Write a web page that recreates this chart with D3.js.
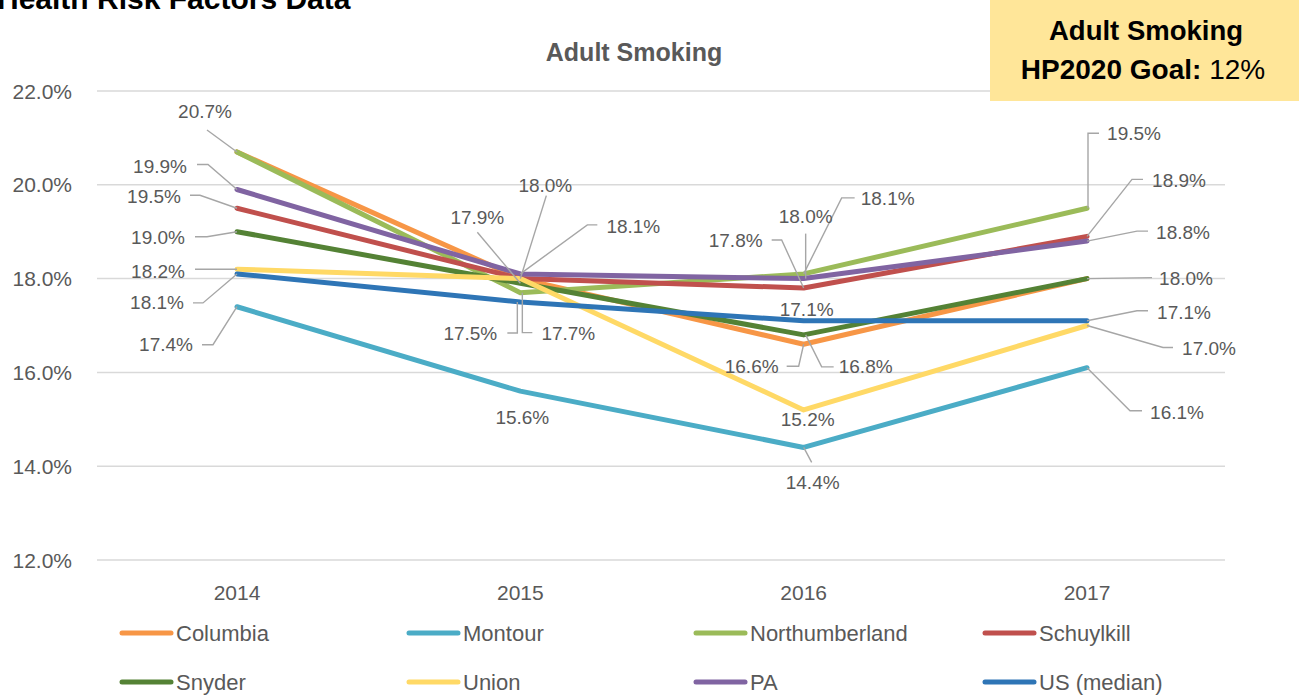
<!DOCTYPE html>
<html>
<head>
<meta charset="utf-8">
<script src="https://cdn.jsdelivr.net/npm/d3@7"></script>
<style>
  body { margin: 0; background: #fff; }
  svg { display: block; font-family: "Liberation Sans", Arial, sans-serif; }
</style>
</head>
<body>
<div id="chart"></div>
<script>
// data
var years = ["2014", "2015", "2016", "2017"];
var seriesNames = ["Columbia", "Montour", "Northumberland", "Schuylkill", "Snyder", "Union", "PA", "US (median)"];
var columbia = [20.7, 18.0, 16.6, 18.0];
var montour = [17.4, 15.6, 14.4, 16.1];
var northumberland = [20.7, 17.7, 18.1, 19.5];
var schuylkill = [19.5, 18.0, 17.8, 18.9];
var snyder = [19.0, 17.9, 16.8, 18.0];
var union = [18.2, 18.0, 15.2, 17.0];
var pa = [19.9, 18.1, 18.0, 18.8];
var usMedian = [18.1, 17.5, 17.1, 17.1];
var yTicks = [12, 14, 16, 18, 20, 22];

var allValues = [columbia, montour, northumberland, schuylkill, snyder, union, pa, usMedian];
var colors = ["#F79646", "#4BACC6", "#9BBB59", "#C0504D", "#548235", "#FFD966", "#8064A2", "#2E75B6"];

// label placement: series index, year index, label offset, leader vertices (relative to the point)
var labelLayout = [
  [2, 0, -32, -40, [[-30, -22], [0, 0]]],
  [6, 0, -77, -23, [[-40, -25], [-29, -25], [0, 0]]],
  [3, 0, -83, -12, [[-47, -13], [-37, -13], [0, 0]]],
  [4, 0, -79, 6, [[-42, 5], [-30, 5], [0, 0]]],
  [5, 0, -79, 2, [[-42, 0], [0, 0]]],
  [7, 0, -80, 29, [[-44, 29], [-34, 29], [0, 0]]],
  [1, 0, -71, 38, [[-35, 38], [-24, 38], [0, 0]]],

  [6, 1, 113, -47, [[77, -49], [67, -49], [0, 0]]],
  [3, 1, 25, -93, [[26, -83], [0, 0]]],
  [4, 1, -43, -66, [[-43, -51], [0, 0]]],
  [7, 1, -50, 31, [[-13, 31], [-3, 31], [-3, 0]]],
  [2, 1, 48, 41, [[12, 40], [2, 40], [2, 0]]],
  [1, 1, 2, 26, null],

  [2, 2, 84, -75, [[51, -76], [38, -76], [0, 0]]],
  [6, 2, 2, -62, [[2, -45], [2, 0]]],
  [3, 2, -68, -47, [[-32, -48], [-22, -48], [0, 0]]],
  [7, 2, 3, -11, null],
  [0, 2, -52, 22, [[-17, 22], [-5, 22], [0, 0]]],
  [4, 2, 62, 32, [[30, 32], [18, 32], [2, 0]]],
  [5, 2, 4, 10, null],
  [1, 2, 9, 35, [[8, 15], [0, 0]]],

  [2, 3, 47, -75, [[12, -75], [1, -75], [1, 0]]],
  [3, 3, 92, -56, [[56, -57], [45, -57], [0, 0]]],
  [6, 3, 96, -9, [[61, -10], [50, -10], [0, 0]]],
  [4, 3, 99, 0, [[65, -1], [0, 0]]],
  [7, 3, 97, -8, [[61, -10], [50, -10], [0, 0]]],
  [5, 3, 122, 23, [[86, 22], [76, 22], [0, 0]]],
  [1, 3, 90, 45, [[55, 43], [43, 43], [0, 0]]]
];

var W = 1299, H = 696;
var textGrey = "#595959";

var svg = d3.select("#chart").append("svg")
  .attr("width", W)
  .attr("height", H);

var x = d3.scalePoint().domain(years).range([237, 1087]);
var y = d3.scaleLinear().domain([12, 22]).range([560, 91]);
var gridLeft = 97, gridRight = 1225;

// gridlines
svg.append("g").selectAll("line")
  .data(yTicks)
  .enter().append("line")
    .attr("x1", gridLeft)
    .attr("x2", gridRight)
    .attr("y1", function(d) { return y(d); })
    .attr("y2", function(d) { return y(d); })
    .attr("stroke", "#d9d9d9")
    .attr("stroke-width", 1.5);

// y axis labels
svg.append("g").selectAll("text")
  .data(yTicks)
  .enter().append("text")
    .attr("x", 72)
    .attr("y", function(d) { return y(d); })
    .attr("text-anchor", "end")
    .attr("dominant-baseline", "central")
    .attr("font-size", 21)
    .attr("fill", textGrey)
    .text(function(d) { return d.toFixed(1) + "%"; });

// x axis labels
svg.append("g").selectAll("text")
  .data(years)
  .enter().append("text")
    .attr("x", function(d) { return x(d); })
    .attr("y", 592)
    .attr("text-anchor", "middle")
    .attr("dominant-baseline", "central")
    .attr("font-size", 21)
    .attr("fill", textGrey)
    .text(function(d) { return d; });

// chart title
svg.append("text")
  .attr("x", 634)
  .attr("y", 52)
  .attr("text-anchor", "middle")
  .attr("dominant-baseline", "central")
  .attr("font-size", 25)
  .attr("font-weight", "bold")
  .attr("fill", textGrey)
  .text("Adult Smoking");

// lines
var line = d3.line()
  .x(function(d, i) { return x(years[i]); })
  .y(function(d) { return y(d); });

svg.append("g").selectAll("path")
  .data(allValues)
  .enter().append("path")
    .attr("d", line)
    .attr("fill", "none")
    .attr("stroke", function(d, i) { return colors[i]; })
    .attr("stroke-width", 5)
    .attr("stroke-linejoin", "round")
    .attr("stroke-linecap", "round");

// leader lines and data labels
var lab = svg.append("g");
labelLayout.forEach(function(l) {
  var v = allValues[l[0]][l[1]];
  var px = x(years[l[1]]), py = y(v);
  if (l[4]) {
    lab.append("path")
      .attr("d", d3.line()(l[4].map(function(p) { return [px + p[0], py + p[1]]; })))
      .attr("fill", "none")
      .attr("stroke", "#a6a6a6")
      .attr("stroke-width", 1.4);
  }
  lab.append("text")
    .attr("x", px + l[2])
    .attr("y", py + l[3])
    .attr("text-anchor", "middle")
    .attr("dominant-baseline", "central")
    .attr("font-size", 19)
    .attr("fill", textGrey)
    .text(v.toFixed(1) + "%");
});

// legend
var legendCols = [120, 407, 694, 983], legendRows = [633, 682];
var legend = svg.append("g").selectAll("g")
  .data(seriesNames)
  .enter().append("g")
    .attr("transform", function(d, i) {
      return "translate(" + legendCols[i % 4] + "," + legendRows[Math.floor(i / 4)] + ")";
    });
legend.append("line")
  .attr("x1", 2).attr("x2", 51)
  .attr("stroke", function(d, i) { return colors[i]; })
  .attr("stroke-width", 5)
  .attr("stroke-linecap", "round");
legend.append("text")
  .attr("x", 56)
  .attr("dominant-baseline", "central")
  .attr("font-size", 22)
  .attr("fill", textGrey)
  .text(function(d) { return d; });

// page heading, cut off at the top as in the source slide
svg.append("text")
  .attr("x", -3)
  .attr("y", 9)
  .attr("font-size", 30)
  .attr("font-weight", "bold")
  .attr("fill", "#000")
  .text("Health Risk Factors Data");

// goal box
svg.append("rect")
  .attr("x", 990).attr("y", 0)
  .attr("width", W - 990).attr("height", 101)
  .attr("fill", "#FFE699");
svg.append("text")
  .attr("x", 1146).attr("y", 40)
  .attr("text-anchor", "middle")
  .attr("font-size", 27.5)
  .attr("font-weight", "bold")
  .text("Adult Smoking");
var goal = svg.append("text")
  .attr("x", 1143).attr("y", 79)
  .attr("text-anchor", "middle")
  .attr("font-size", 28);
goal.append("tspan").attr("font-weight", "bold").text("HP2020 Goal: ");
goal.append("tspan").text("12%");
</script>
</body>
</html>
